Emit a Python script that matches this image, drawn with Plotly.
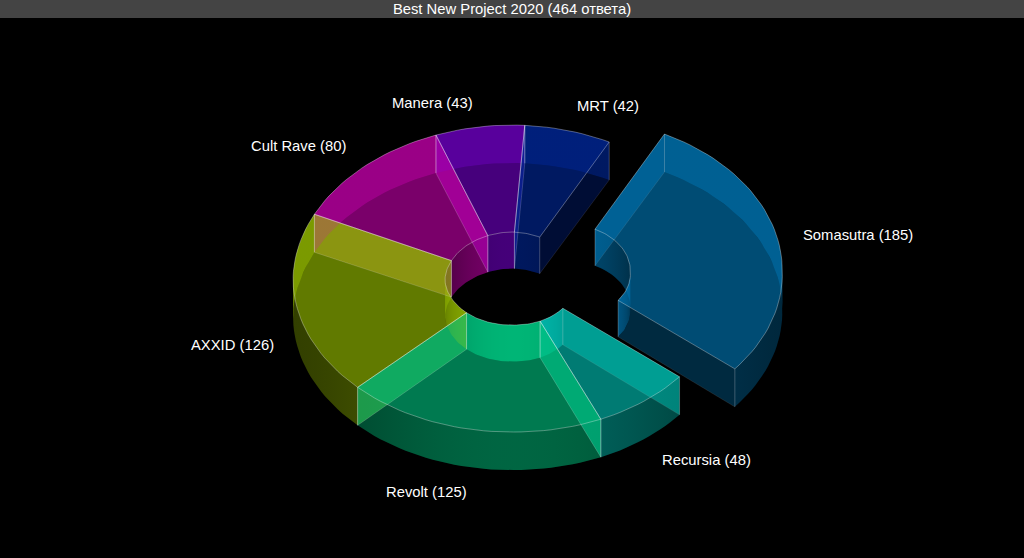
import math
import plotly.graph_objects as go

title = "Best New Project 2020 (464 ответа)"
names = ["Somasutra", "Recursia", "Revolt", "AXXID", "Cult Rave", "Manera", "MRT"]
values = [185, 48, 125, 126, 80, 43, 42]
explode = [0.26, 0, 0, 0, 0, 0, 0]
colors = [(0, 122, 186), (0, 197, 183), (0, 196, 127), (155, 195, 0),
          (195, 0, 170), (112, 0, 198), (0, 40, 155)]
label_nudge = [-11, -1, 8, 14, 7, 0, -2]
label_lift = [-1, 0, 0, -1, -1, 0, -1.5]

# projection of the ring, in px of the 1024x558 page
cx, cy = 510, 278.5
outer_a, outer_b = 217, 153.5
inner_a, inner_b = 65, 46.5
outer_h, inner_h = 38, 36.5
start_angle = 27.2
label_r = 1.16

BOTTOM_A = 0.25
TOP_A = 0.5


def rgba(c, a):
    return "rgba(%d,%d,%d,%.3f)" % (c[0], c[1], c[2], a)


def frange(a, b, step):
    n = max(1, int(math.ceil((b - a) / step)))
    return [a + (b - a) * i / n for i in range(n + 1)]


def pt(t, kind, down, off):
    ar = math.radians(t)
    a, b = (outer_a, outer_b) if kind == "o" else (inner_a, inner_b)
    h = 0
    if down:
        h = outer_h if kind == "o" else inner_h
    x = cx + off[0] + a * math.sin(ar)
    y = cy + off[1] - b * math.cos(ar) + h
    # small correction for the perspective of the original
    x += 4.5 * max(0, -math.cos(ar))
    y += 2.5 * max(0, -math.sin(ar))
    return x, y


def face(pts, color, a):
    return go.Scatter(x=[p[0] for p in pts] + [pts[0][0]], y=[p[1] for p in pts] + [pts[0][1]],
                      mode="lines", fill="toself", fillcolor=rgba(color, a), line=dict(width=0),
                      hoverinfo="skip", showlegend=False)


def edge(pts, a, width=0.8):
    return go.Scatter(x=[p[0] for p in pts], y=[p[1] for p in pts], mode="lines",
                      line=dict(color="rgba(255,255,255,%.2f)" % a, width=width),
                      hoverinfo="skip", showlegend=False)


def ring_pts(t0, t1, off, down):
    ts = frange(t0, t1, 2)
    return [pt(t, "o", down, off) for t in ts] + [pt(t, "i", down, off) for t in reversed(ts)]


def outer_alpha(t):
    f = -math.cos(math.radians(t))
    return 0.1 + 0.26 * f ** 3 if f > 0 else 0.58


def inner_alpha(t):
    f = math.cos(math.radians(t))
    return 0.2 + 0.28 * f * f if f > 0 else 0.3 + 0.55 * -f


def curved_wall(t0, t1, kind, off, color, alpha):
    # one polygon with a left-right gradient, x has to run one way only
    ts = frange(t0, t1, 2)
    pts = [pt(t, kind, False, off) for t in ts] + [pt(t, kind, True, off) for t in reversed(ts)]
    xs = [p[0] for p in pts]
    lo, hi = min(xs), max(xs)
    stops = sorted(((pt(t, kind, False, off)[0] - lo) / (hi - lo), alpha(t)) for t in ts)
    scale = [[s, rgba(color, a)] for s, a in stops]
    scale[0][0], scale[-1][0] = 0, 1
    return go.Scatter(x=xs + [xs[0]], y=[p[1] for p in pts] + [pts[0][1]], mode="lines",
                      fill="toself", fillgradient=dict(type="horizontal", colorscale=scale),
                      line=dict(width=0), hoverinfo="skip", showlegend=False)


def arc_parts(t0, t1):
    # split where the wall turns round (90 and 270, also past the full circle)
    cuts = [t0] + [c for c in (90, 270, 450, 630) if t0 < c < t1] + [t1]
    return list(zip(cuts[:-1], cuts[1:]))


total = sum(values)
bottoms, back_walls, front_walls, tops, lines, labels = [], [], [], [], [], []
t0 = start_angle
for i, v in enumerate(values):
    t1 = t0 + v * 360 / total
    mid = (t0 + t1) / 2
    mr = math.radians(mid)
    off = (explode[i] * outer_a * math.sin(mr), -explode[i] * outer_b * math.cos(mr))
    c = colors[i]

    bottoms.append(face(ring_pts(t0, t1, off, True), c, BOTTOM_A))

    for a0, a1 in arc_parts(t0, t1):
        am = (a0 + a1) / 2
        is_front = math.cos(math.radians(am)) < 0
        w = curved_wall(a0, a1, "o", off, c, outer_alpha)
        (front_walls if is_front else back_walls).append(w)
        w = curved_wall(a0, a1, "i", off, c, inner_alpha)
        (back_walls if is_front else front_walls).append(w)

    # the two flat cut walls
    for t, sign in ((t0, -1), (t1, 1)):
        side = [pt(t, "o", False, off), pt(t, "i", False, off), pt(t, "i", True, off), pt(t, "o", True, off)]
        f = -math.cos(math.radians(t + sign * 90))
        if f < 0:
            back_walls.append(face(side, c, 0.6))
        else:
            front_walls.append(face(side, c, 0.12))
        lines.append(edge([side[0], side[3]], 0.3))
        lines.append(edge([side[1], side[2]], 0.3))
        lines.append(edge([side[2], side[3]], 0.12))

    top = ring_pts(t0, t1, off, False)
    tops.append(face(top, c, TOP_A))
    lines.append(edge(top + [top[0]], 0.4))

    # labels sit just outside the ring, lower half is pushed under the wall
    lx = cx + off[0] + outer_a * label_r * math.sin(mr) + label_nudge[i]
    ly = cy + off[1] - outer_b * label_r * math.cos(mr) + 0.7 + label_lift[i]
    if math.cos(mr) < 0:
        ly += outer_h
    labels.append(dict(x=lx, y=ly, text="%s (%d)" % (names[i], v), showarrow=False,
                       xanchor="left" if math.sin(mr) > 0 else "right", yanchor="middle",
                       font=dict(family="Liberation Sans", size=14.8, color="white")))
    t0 = t1

fig = go.Figure(bottoms + back_walls + front_walls + tops + lines)
fig.update_layout(
    width=1024, height=558, margin=dict(l=0, r=0, t=0, b=0),
    paper_bgcolor="black", plot_bgcolor="black", showlegend=False,
    annotations=labels,
    title=dict(text=title, x=0.5, xanchor="center", y=1 - 9 / 558, yanchor="middle",
               font=dict(family="Liberation Sans", size=14.8, color="white")),
    shapes=[dict(type="rect", xref="paper", yref="paper", x0=0, x1=1, y0=1 - 18 / 558, y1=1,
                 fillcolor="#444444", line=dict(width=0), layer="below")],
    xaxis=dict(range=[0, 1024], visible=False, fixedrange=True),
    yaxis=dict(range=[558, 0], visible=False, fixedrange=True),
)
fig.write_html("out.html", config=dict(displayModeBar=False),
               post_script="document.body.style.margin='0';document.body.style.background='black';")
